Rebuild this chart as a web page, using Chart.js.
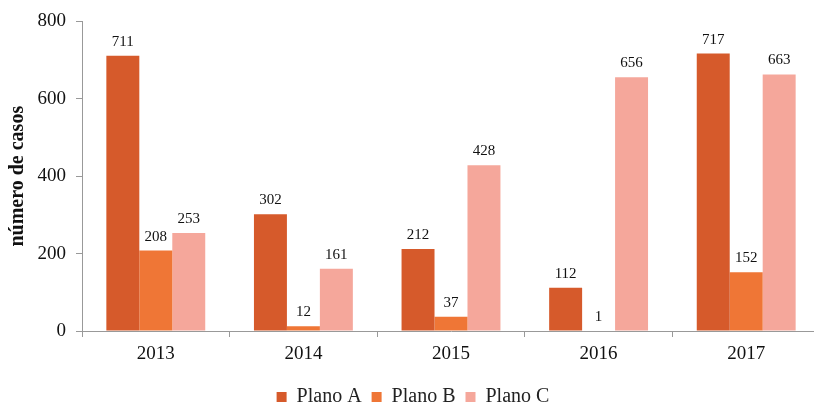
<!DOCTYPE html>
<html>
<head>
<meta charset="utf-8">
<script src="https://cdn.jsdelivr.net/npm/chart.js@4"></script>
<style>
  html, body { margin: 0; padding: 0; background: #fff; overflow: hidden; }
  #wrap { width: 822px; height: 406px; position: relative; }
</style>
</head>
<body>
<div id="wrap"><canvas id="grafico"></canvas></div>
<script>
const anos = ["2013", "2014", "2015", "2016", "2017"];
const planoA = [711, 302, 212, 112, 717];
const planoB = [208, 12, 37, 1, 152];
const planoC = [253, 161, 428, 656, 663];
const ticksY = [0, 200, 400, 600, 800];

const serif = "'Liberation Serif', 'Times New Roman', serif";

// numeros encima de cada barra
const etiquetas = {
  id: "etiquetas",
  afterDatasetsDraw(chart) {
    const ctx = chart.ctx;
    ctx.save();
    ctx.font = "15px " + serif;
    ctx.fillStyle = "#111";
    ctx.textAlign = "center";
    ctx.textBaseline = "alphabetic";
    chart.data.datasets.forEach((ds, i) => {
      chart.getDatasetMeta(i).data.forEach((bar, j) => {
        ctx.fillText(ds.data[j], bar.x, bar.y - 10);
      });
    });
    ctx.restore();
  }
};

new Chart(document.getElementById("grafico"), {
  type: "bar",
  data: {
    labels: anos,
    datasets: [
      { label: "Plano A", data: planoA, backgroundColor: "#D65A2B" },
      { label: "Plano B", data: planoB, backgroundColor: "#EF7636" },
      { label: "Plano C", data: planoC, backgroundColor: "#F5A79B" }
    ]
  },
  options: {
    responsive: true,
    maintainAspectRatio: false,
    animation: false,
    layout: { padding: { top: 20, right: 2, left: 6, bottom: -11 } },
    datasets: { bar: { categoryPercentage: 0.67, barPercentage: 1 } },
    plugins: {
      legend: {
        position: "bottom",
        title: { display: true, text: "", font: { size: 1 }, padding: { top: 0, bottom: 4 } },
        labels: {
          boxWidth: 10, boxHeight: 10, padding: 10,
          color: "#222",
          font: { family: serif, size: 20 }
        }
      },
      tooltip: { enabled: false }
    },
    scales: {
      x: {
        grid: { drawOnChartArea: false, tickLength: 6, color: "#999" },
        border: { color: "#999" },
        ticks: { color: "#111", font: { family: serif, size: 19 }, padding: 6 }
      },
      y: {
        min: 0, max: 800,
        afterBuildTicks: s => { s.ticks = ticksY.map(v => ({ value: v })); },
        afterFit: s => { s.width = 76; },
        grid: { drawOnChartArea: false, tickLength: 6, color: "#999" },
        border: { color: "#999" },
        ticks: { color: "#111", font: { family: serif, size: 19 }, padding: 10 },
        title: {
          display: true, text: "número de casos", color: "#111",
          font: { family: serif, size: 20, weight: "bold" }, padding: 0
        }
      }
    }
  },
  plugins: [etiquetas]
});
</script>
</body>
</html>
